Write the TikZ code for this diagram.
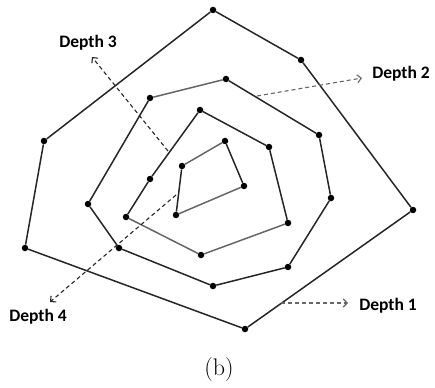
\documentclass[tikz,border=0pt]{standalone}
\usepackage{fontspec}
\newfontfamily\lblfont{Carlito}
\usetikzlibrary{arrows.meta}
\begin{document}
\begin{tikzpicture}[x=1pt,y=-1pt,
  dot/.style={circle,fill=black,inner sep=0pt,minimum size=6.5pt},
  edge/.style={line width=1.5pt,draw=black!85},
  edgeg/.style={line width=1.5pt,draw=black!60},
  lbl/.style={font=\lblfont\bfseries\fontsize{17.5}{20}\selectfont,inner sep=0pt,text=black},
  darr/.style={dash pattern=on 4pt off 3pt,line width=1.1pt,-{Straight Barb[length=4pt,width=8pt]}},
]
\useasboundingbox (0,0) rectangle (435,387);
% Depth 1
\node[dot] (a1) at (213,10) {};
\node[dot] (a2) at (301,60) {};
\node[dot] (a3) at (413,210) {};
\node[dot] (a4) at (245,329) {};
\node[dot] (a5) at (25,248) {};
\node[dot] (a6) at (44,141) {};
\draw[edge] (a1)--(a2)--(a3)--(a4)--(a5)--(a6)--(a1);
% Depth 2
\node[dot] (b1) at (150,98) {};
\node[dot] (b2) at (226,79) {};
\node[dot] (b3) at (319,135) {};
\node[dot] (b4) at (331,198) {};
\node[dot] (b5) at (288,267) {};
\node[dot] (b6) at (213,286) {};
\node[dot] (b7) at (119,248) {};
\node[dot] (b8) at (88,204) {};
\draw[edgeg] (b1)--(b2);
\draw[edge] (b2)--(b3)--(b4)--(b5)--(b6)--(b7)--(b8)--(b1);
% Depth 3
\node[dot] (c1) at (200,110) {};
\node[dot] (c2) at (269,147) {};
\node[dot] (c3) at (288,223) {};
\node[dot] (c4) at (201,255) {};
\node[dot] (c5) at (126,217) {};
\node[dot] (c6) at (150,179) {};
\draw[edge] (c1)--(c2)--(c3);
\draw[edgeg] (c3)--(c4)--(c5);
\draw[edge] (c5)--(c6)--(c1);
% Depth 4
\node[dot] (d1) at (182,166) {};
\node[dot] (d2) at (225,141) {};
\node[dot] (d3) at (244,186) {};
\node[dot] (d4) at (176,215) {};
\draw[edgeg] (d1)--(d2);
\draw[edge] (d2)--(d3);
\draw[edgeg] (d3)--(d4);
\draw[edge] (d4)--(d1);
% labels
\node[lbl] (l1) at (388,306) {Depth 1};
\node[lbl] (l2) at (401,74) {Depth 2};
\node[lbl] (l3) at (88,43) {Depth 3};
\node[lbl] (l4) at (38,317) {Depth 4};
\coordinate (s1) at (281,303);
\coordinate (t1) at (348,303);
\coordinate (s2) at (257,96);
\coordinate (t2) at (362,78);
\coordinate (s3) at (168,151);
\coordinate (t3) at (92,57);
\coordinate (s4) at (176,195);
\coordinate (t4) at (50,302);
\draw[darr,black!60] (s1)--(t1);
\draw[darr,black!60] (s2)--(t2);
\draw[darr,black!85] (s3)--(t3);
\draw[darr,black!85] (s4)--(t4);
\node[font=\fontsize{24}{28}\selectfont,inner sep=0pt] (cap) at (219,370) {(b)};
\end{tikzpicture}
\end{document}
